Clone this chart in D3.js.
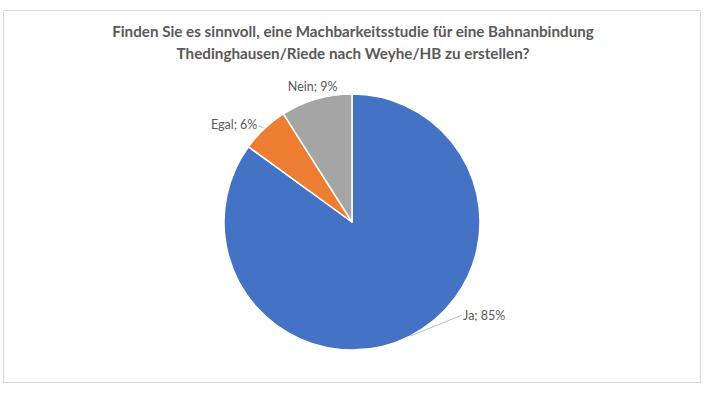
<!DOCTYPE html>
<html><head><meta charset="utf-8">
<script src="https://cdn.jsdelivr.net/npm/d3@7"></script>
<style>html,body{margin:0;padding:0;background:#fff;}svg{display:block;}</style>
</head><body>
<svg id="c" width="704" height="396"></svg>
<script>
const categories = ["Ja", "Egal", "Nein"];
const values = [85, 6, 9];
const colors = ["#4472C4", "#ED7D31", "#A5A5A5"];
const titleLines = ["Finden Sie es sinnvoll, eine Machbarkeitsstudie für eine Bahnanbindung",
                    "Thedinghausen/Riede nach Weyhe/HB zu erstellen?"];

const W = 704, H = 396;
const svg = d3.select("#c");
svg.append("rect").attr("x", 3.5).attr("y", 10.5).attr("width", 697).attr("height", 372)
  .attr("fill", "#fff").attr("stroke", "#d9d9d9").attr("stroke-width", 1);

const font = "Lato, 'Open Sans', sans-serif";
const titleWidths = [482, 353];
const titleY = [37, 59];
titleLines.forEach((t, i) => {
  const el = svg.append("text").attr("x", 353).attr("y", titleY[i]).attr("text-anchor", "middle")
    .attr("font-family", font).attr("font-weight", "bold").attr("font-size", 16)
    .attr("fill", "#595959").text(t);
  const w = el.node().getComputedTextLength();
  el.attr("font-size", 16 * titleWidths[i] / w);
});

const cx = 352, cy = 222, r = 128;
const g = svg.append("g").attr("transform", `translate(${cx},${cy})`);
const data = categories.map((c, i) => ({cat: c, v: values[i], color: colors[i]}));
const pie = d3.pie().value(d => d.v).sort(null);
const arcs = pie(data);
const arc = d3.arc().innerRadius(0).outerRadius(r);
g.selectAll("path").data(arcs).enter().append("path")
  .attr("d", arc).attr("fill", d => d.data.color)
  .attr("stroke", "#fff").attr("stroke-width", 1.5).attr("stroke-linejoin", "round");

// label layout: offset from arc edge point at mid angle
const labelLayout = {
  "Ja":   {dx: 53, dy: -20, anchor: "start", leader: true},
  "Egal": {dx: -7, dy: -4, anchor: "end", leader: true},
  "Nein": {dx: -0, dy: -47, anchor: "middle", leader: false}
};
arcs.forEach(a => {
  const m = (a.startAngle + a.endAngle) / 2;
  const ex = Math.sin(m) * r, ey = -Math.cos(m) * r;
  const L = labelLayout[a.data.cat];
  let lx = ex + L.dx, ly = ey + L.dy;
  if (a.data.cat === "Nein") { lx = Math.sin(m) * (r + 13) ; ly = -Math.cos(m) * (r + 13) - 0; }
  if (L.leader) {
    const pts = a.data.cat === "Ja"
      ? [[ex, ey], [lx - 1, ly - 1]]
      : [[ex - 1, ey - 1], [lx + 1, ly + 1]];
    g.append("path").attr("d", d3.line()(pts)).attr("fill", "none")
      .attr("stroke", "#bfbfbf").attr("stroke-width", 1);
  }
  g.append("text").attr("x", lx).attr("y", ly + 4).attr("text-anchor", L.anchor)
    .attr("font-family", font).attr("font-size", 12.5).attr("fill", "#595959")
    .text(`${a.data.cat}; ${a.data.v}%`);
});
</script>
</body></html>
